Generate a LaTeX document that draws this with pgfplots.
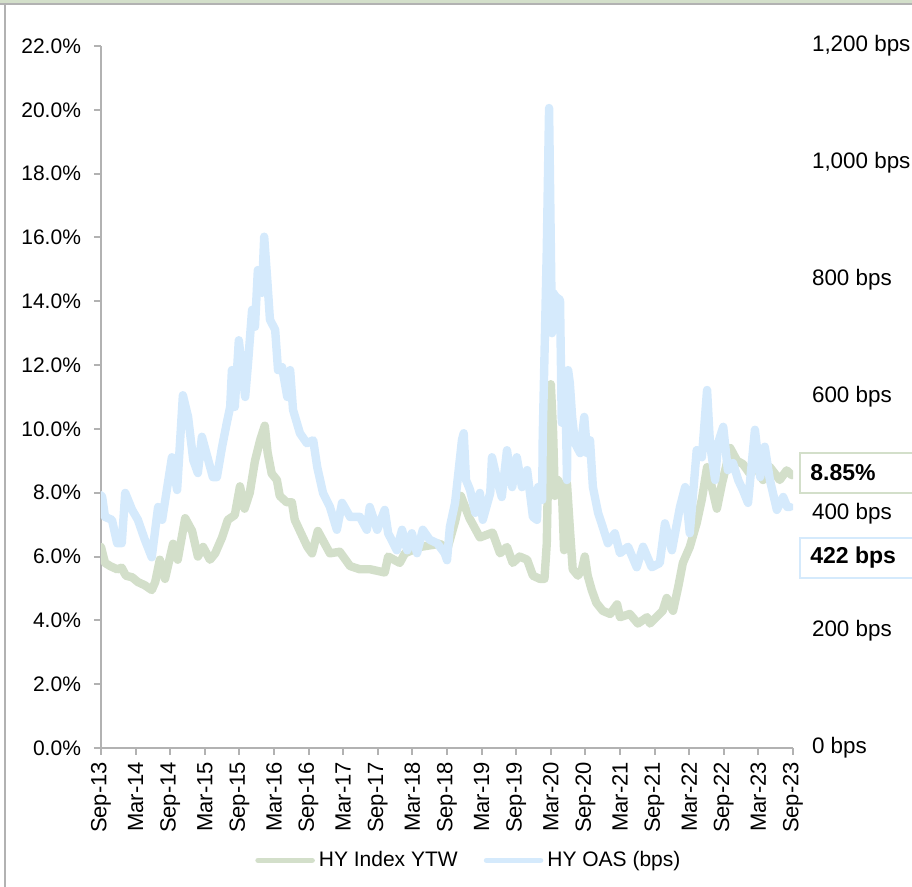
\documentclass[border=0pt]{standalone}
\usepackage{fontspec}
\setmainfont{Liberation Sans}
\usepackage{pgfplots}
\usepackage{pgfplotstable}
\pgfplotsset{compat=1.18}

\definecolor{ytwgreen}{RGB}{211,223,202}
\definecolor{oasblue}{RGB}{213,234,252}
\definecolor{axgray}{RGB}{178,178,178}

% months after Sep-13, yield to worst (%)
\pgfplotstableread{
m ytw
0.0 6.3
0.7 5.8
1.6 5.7
2.8 5.6
3.6 5.65
4.3 5.4
5.4 5.35
6.4 5.2
7.6 5.1
8.8 4.95
9.4 5.2
10.2 5.9
11.1 5.3
12.5 6.4
13.3 5.9
14.6 7.2
15.8 6.8
16.8 6.0
17.7 6.3
18.9 5.9
19.8 6.1
21.0 6.6
22.0 7.15
23.2 7.3
24.1 8.2
24.9 7.5
25.8 8.0
26.7 9.0
27.6 9.65
28.4 10.1
28.9 9.25
29.6 8.6
30.5 8.4
31.0 7.9
32.2 7.7
33.1 7.7
33.6 7.15
34.5 6.8
35.8 6.3
36.6 6.1
37.6 6.8
39.7 6.1
41.4 6.15
43.2 5.7
44.9 5.6
46.7 5.6
49.2 5.5
49.8 6.0
51.8 5.8
52.7 6.1
55.3 6.3
58.8 6.4
60.0 6.2
61.4 7.1
62.4 7.9
63.9 7.2
65.7 6.6
67.9 6.75
69.2 6.1
70.4 6.3
71.4 5.8
72.6 6.0
73.9 5.9
74.9 5.4
76.1 5.3
76.9 5.3
77.3 6.4
77.5 8.4
78.0 11.4
78.4 9.9
78.7 7.9
79.2 8.4
79.9 8.2
80.3 6.2
80.8 8.3
81.3 6.9
81.8 5.6
82.7 5.4
83.4 5.6
83.9 6.0
84.4 5.4
85.1 4.95
85.9 4.55
87.0 4.3
88.3 4.2
89.5 4.5
90.0 4.1
91.7 4.2
93.1 3.9
94.7 4.1
95.2 3.9
97.4 4.3
98.1 4.7
99.2 4.3
100.1 5.05
100.9 5.8
102.1 6.3
103.3 7.05
104.2 7.8
105.1 8.8
105.9 8.2
106.8 7.5
107.7 8.3
108.5 8.9
109.1 9.4
110.3 9.0
111.3 8.9
112.5 8.6
113.7 8.8
114.8 8.4
116.0 8.8
117.7 8.4
118.9 8.7
119.8 8.55
}\ytwdata

% months after Sep-13, option adjusted spread (bps)
\pgfplotstableread{
m oas
0.0 432
0.2 429
0.7 395
1.9 390
2.8 350
3.6 350
4.2 436
5.4 407
6.4 390
7.6 356
8.8 326
9.9 412
10.6 390
12.3 497
13.2 441
14.2 603
15.1 566
16.0 492
16.8 470
17.5 532
18.6 492
19.4 463
20.1 463
21.0 515
21.8 555
22.4 583
22.7 646
23.2 583
23.9 697
25.0 600
25.5 658
26.2 749
26.7 720
27.2 817
27.9 778
28.3 874
28.8 805
29.3 732
30.2 715
30.7 646
31.4 651
32.3 600
32.8 646
33.3 578
34.5 538
35.7 521
36.8 526
37.5 480
38.5 436
39.7 412
40.9 373
41.8 419
43.2 395
44.9 395
46.1 373
46.6 412
47.9 373
49.2 407
49.8 367
51.3 338
52.2 373
53.1 338
53.9 367
54.8 333
55.8 373
57.0 356
58.3 350
59.6 333
60.0 321
60.5 378
61.4 419
62.6 527
62.9 538
63.3 458
64.0 441
64.9 402
65.7 436
66.2 390
67.5 436
67.8 497
68.7 458
69.5 429
70.4 509
71.3 446
72.1 497
73.0 446
73.9 475
74.9 395
75.6 390
75.8 446
76.5 424
76.6 532
77.3 851
77.7 1094
78.2 709
78.4 778
78.9 771
79.6 766
79.9 556
80.5 641
80.8 458
81.0 646
81.3 624
81.7 566
82.2 521
83.1 504
83.8 566
84.3 504
84.8 526
85.3 446
86.2 402
87.0 378
87.9 350
89.1 367
90.0 333
91.4 344
92.9 309
94.0 344
95.5 309
96.9 316
97.8 384
99.0 338
100.4 412
101.3 446
102.1 367
103.3 509
104.2 497
105.1 612
105.6 521
106.5 458
107.0 521
107.9 549
108.7 475
109.6 487
110.5 458
111.3 441
112.2 419
113.4 544
114.3 463
115.1 515
116.0 458
117.2 407
118.3 429
119.0 412
119.5 412
}\oasdata

\begin{document}
\begin{tikzpicture}
\pgfplotsset{
  base/.style={
    scale only axis, width=346pt, height=351pt,
    xmin=0, xmax=120,
    /pgf/number format/assume math mode=true,
    tick label style={font=\fontsize{10.5}{12}\selectfont, text=black},
    every axis plot/.append style={line width=4.2pt, line join=round, line cap=round, mark=none},
  }
}
\begin{axis}[base,
  ymin=0, ymax=22,
  axis x line*=bottom, axis y line*=left,
  axis line style={axgray, line width=1pt, -},
  tick style={axgray, line width=1pt},
  tick align=outside, major tick length=3.5pt,
  xtick={0,6,...,120},
  xticklabels={Sep-13,Mar-14,Sep-14,Mar-15,Sep-15,Mar-16,Sep-16,Mar-17,Sep-17,Mar-18,Sep-18,Mar-19,Sep-19,Mar-20,Sep-20,Mar-21,Sep-21,Mar-22,Sep-22,Mar-23,Sep-23},
  xticklabel style={rotate=90, anchor=east, font=\fontsize{11}{12}\selectfont},
  ytick={0,2,...,22},
  yticklabel={\pgfmathprintnumber[fixed,fixed zerofill,precision=1]{\tick}\%},
  yticklabel style={xshift=-3pt},
]
\addplot[ytwgreen] table[x=m,y=ytw]{\ytwdata};
\end{axis}

\begin{axis}[base,
  ymin=0, ymax=1200,
  axis x line=none, axis y line*=right,
  y axis line style={draw=none},
  major tick length=0pt,
  ytick={0,200,...,1200},
  yticklabel={\pgfmathprintnumber[fixed,precision=0,1000 sep={,}]{\tick} bps},
  yticklabel style={anchor=west, xshift=6pt, font=\fontsize{11.2}{12}\selectfont},
  legend style={at={(0.533,-0.16)}, anchor=center, draw=none, fill=none,
    font=\fontsize{10.5}{12}\selectfont,
    /tikz/every even column/.append style={column sep=11pt}},
  legend columns=2,
  legend image code/.code={\draw[#1, line width=2.8pt, line cap=round] (0pt,0pt) -- (27pt,0pt);},
]
\addlegendimage{ytwgreen}
\addlegendentry{HY Index YTW}
\addplot[oasblue] table[x=m,y=oas]{\oasdata};
\addlegendentry{HY OAS (bps)}
\end{axis}

% value call-outs at the right
\draw[ytwgreen, line width=0.9pt, fill=white] (349.5pt,127.5pt) rectangle (407pt,147.5pt);
\node[anchor=west, inner sep=0pt, font=\bfseries\fontsize{11.5}{13}\selectfont] at (354.5pt,137.5pt) {8.85\%};
\draw[oasblue, line width=0.9pt, fill=white] (349.5pt,85pt) rectangle (407pt,105pt);
\node[anchor=west, inner sep=0pt, font=\bfseries\fontsize{11.5}{13}\selectfont] at (354.5pt,95pt) {422 bps};

% frame
\fill[ytwgreen] (-50.5pt,372.4pt) rectangle (405.5pt,374pt);
\draw[axgray, line width=1pt] (-50.5pt,371.9pt) -- (405.5pt,371.9pt);
\draw[axgray, line width=1pt] (-48pt,371.9pt) -- (-48pt,-69.5pt);

\pgfresetboundingbox
\useasboundingbox (-50.5pt,-69.5pt) rectangle (405.5pt,374pt);
\end{tikzpicture}
\end{document}
